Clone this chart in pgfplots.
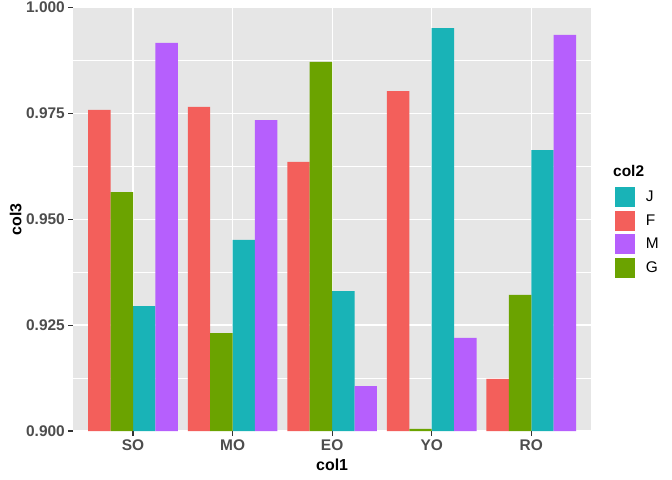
\documentclass[border=0pt]{standalone}
\usepackage{fontspec}
\setmainfont{Liberation Sans}
\usepackage{pgfplots}
\pgfplotsset{compat=1.18}

\definecolor{cJ}{HTML}{19B3B7}
\definecolor{cF}{HTML}{F35F5B}
\definecolor{cM}{HTML}{B65FFD}
\definecolor{cG}{HTML}{6BA300}
\definecolor{panel}{HTML}{E6E6E6}
\definecolor{tickgrey}{HTML}{4D4D4D}
\definecolor{tickline}{HTML}{333333}

\begin{document}
\begin{tikzpicture}
\useasboundingbox (-73.3bp,-49bp) rectangle (598.7bp,431bp);
\begin{axis}[
  scale only axis,
  width=517.7bp, height=423.7bp,
  xmin=-0.6, xmax=4.6,
  ymin=0.9, ymax=1.0,
  clip=false,
  ybar, bar width=0.225,
  axis background/.style={fill=panel},
  axis line style={draw=none},
  tick pos=left, tick align=outside,
  major tick length=5bp,
  minor tick length=0pt,
  tick style={tickline, line width=1.1bp},
  xtick={0,1,2,3,4},
  xticklabels={SO,MO,EO,YO,RO},
  ytick={0.9,0.925,0.95,0.975,1.0},
  yticklabel={\pgfmathprintnumber[fixed,fixed zerofill,precision=3,assume math mode=true]{\tick}},
  minor ytick={0.9125,0.9375,0.9625,0.9875},
  xmajorgrids, ymajorgrids, yminorgrids,
  major grid style={white, line width=1.2bp},
  minor grid style={white, line width=0.6bp},
  ticklabel style={font=\fontsize{15.5}{18}\selectfont\bfseries, text=tickgrey},
  xlabel={col1}, ylabel={col3},
  label style={font=\fontsize{16}{19}\selectfont\bfseries},
  xlabel style={at={(rel axis cs:0.5,0)}, anchor=base, inner sep=0pt, yshift=-39bp},
  ylabel style={at={([xshift=-51.5bp]rel axis cs:0,0.5)}, anchor=south, inner sep=0pt},
  legend image code/.code={\fill[#1, draw=white, line width=1bp] (0bp,-10.5bp) rectangle (21bp,10.5bp);},
  legend style={at={(rel axis cs:1.044,0.578)}, anchor=north west, draw=none, fill=none,
    font=\fontsize{15.5}{18}\selectfont, inner sep=0pt, row sep=1.5bp,
    /tikz/every odd column/.append style={column sep=8bp}},
  legend cell align=left,
]
% J series
\addplot[fill=cJ, draw=none, bar shift=0.1125] coordinates {(0,0.9295) (1,0.9451) (2,0.9330) (3,0.9951) (4,0.9663)};
% F series
\addplot[fill=cF, draw=none, bar shift=-0.3375] coordinates {(0,0.9758) (1,0.9765) (2,0.9635) (3,0.9802) (4,0.9123)};
% M series
\addplot[fill=cM, draw=none, bar shift=0.3375] coordinates {(0,0.9916) (1,0.9734) (2,0.9106) (3,0.9220) (4,0.9935)};
% G series
\addplot[fill=cG, draw=none, bar shift=-0.1125] coordinates {(0,0.9564) (1,0.9231) (2,0.9871) (3,0.9005) (4,0.9321)};
\legend{J,F,M,G}
\node[anchor=base west, inner sep=0pt, font=\fontsize{15.5}{18}\selectfont\bfseries]
  at (rel axis cs:1.0425,0.5995) {col2};
\end{axis}
\end{tikzpicture}
\end{document}
